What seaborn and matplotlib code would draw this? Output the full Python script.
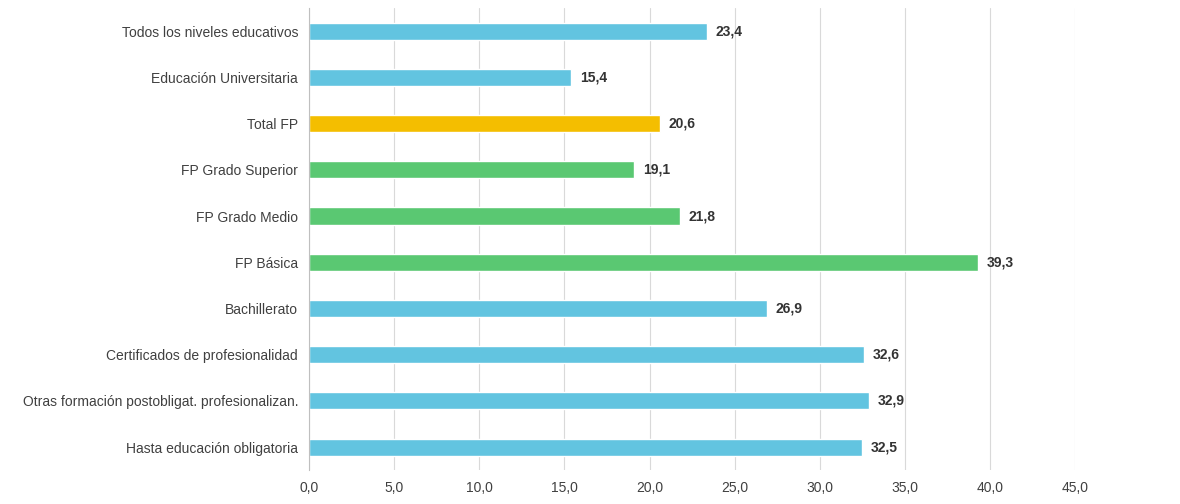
import matplotlib
matplotlib.use('Agg')
import matplotlib.pyplot as plt
import seaborn as sns
import pandas as pd

# categories top to bottom
categories = ['Todos los niveles educativos', 'Educación Universitaria', 'Total FP',
              'FP Grado Superior', 'FP Grado Medio', 'FP Básica', 'Bachillerato',
              'Certificados de profesionalidad', 'Otras formación postobligat. profesionalizan.',
              'Hasta educación obligatoria']
values = [23.4, 15.4, 20.6, 19.1, 21.8, 39.3, 26.9, 32.6, 32.9, 32.5]
groups = ['otro', 'otro', 'total', 'fp', 'fp', 'fp', 'otro', 'otro', 'otro', 'otro']
palette = {'otro': '#62C4E0', 'total': '#F4BE00', 'fp': '#5AC872'}

df = pd.DataFrame({'cat': categories, 'val': values, 'grp': groups})

sns.set_style('white')
plt.rcParams['font.family'] = ['Liberation Sans', 'DejaVu Sans']

fig = plt.figure(figsize=(11.8, 5.04), dpi=100)
ax = fig.add_axes([0.262, 0.067, 0.649, 0.917])
sns.barplot(data=df, y='cat', x='val', hue='grp', palette=palette, dodge=False,
            width=0.37, legend=False, ax=ax, saturation=1)

for i, v in enumerate(values):
    ax.text(v + 0.5, i, f'{v:.1f}'.replace('.', ','), va='center', ha='left',
            fontsize=10, fontweight='bold', color='#333333')

ax.set_xlim(0, 45)
ax.set_xticks(range(0, 46, 5))
ax.set_xticklabels([f'{t:.1f}'.replace('.', ',') for t in range(0, 46, 5)])
ax.xaxis.grid(True, color='#D9D9D9', linewidth=0.8)
ax.set_axisbelow(True)
for s in ['top', 'right', 'bottom']:
    ax.spines[s].set_visible(False)
ax.spines['left'].set_color('#BFBFBF')
ax.tick_params(axis='both', length=0, labelsize=10, colors='#404040', pad=8)
ax.set_xlabel('')
ax.set_ylabel('')

fig.savefig('out.png', dpi=100)
